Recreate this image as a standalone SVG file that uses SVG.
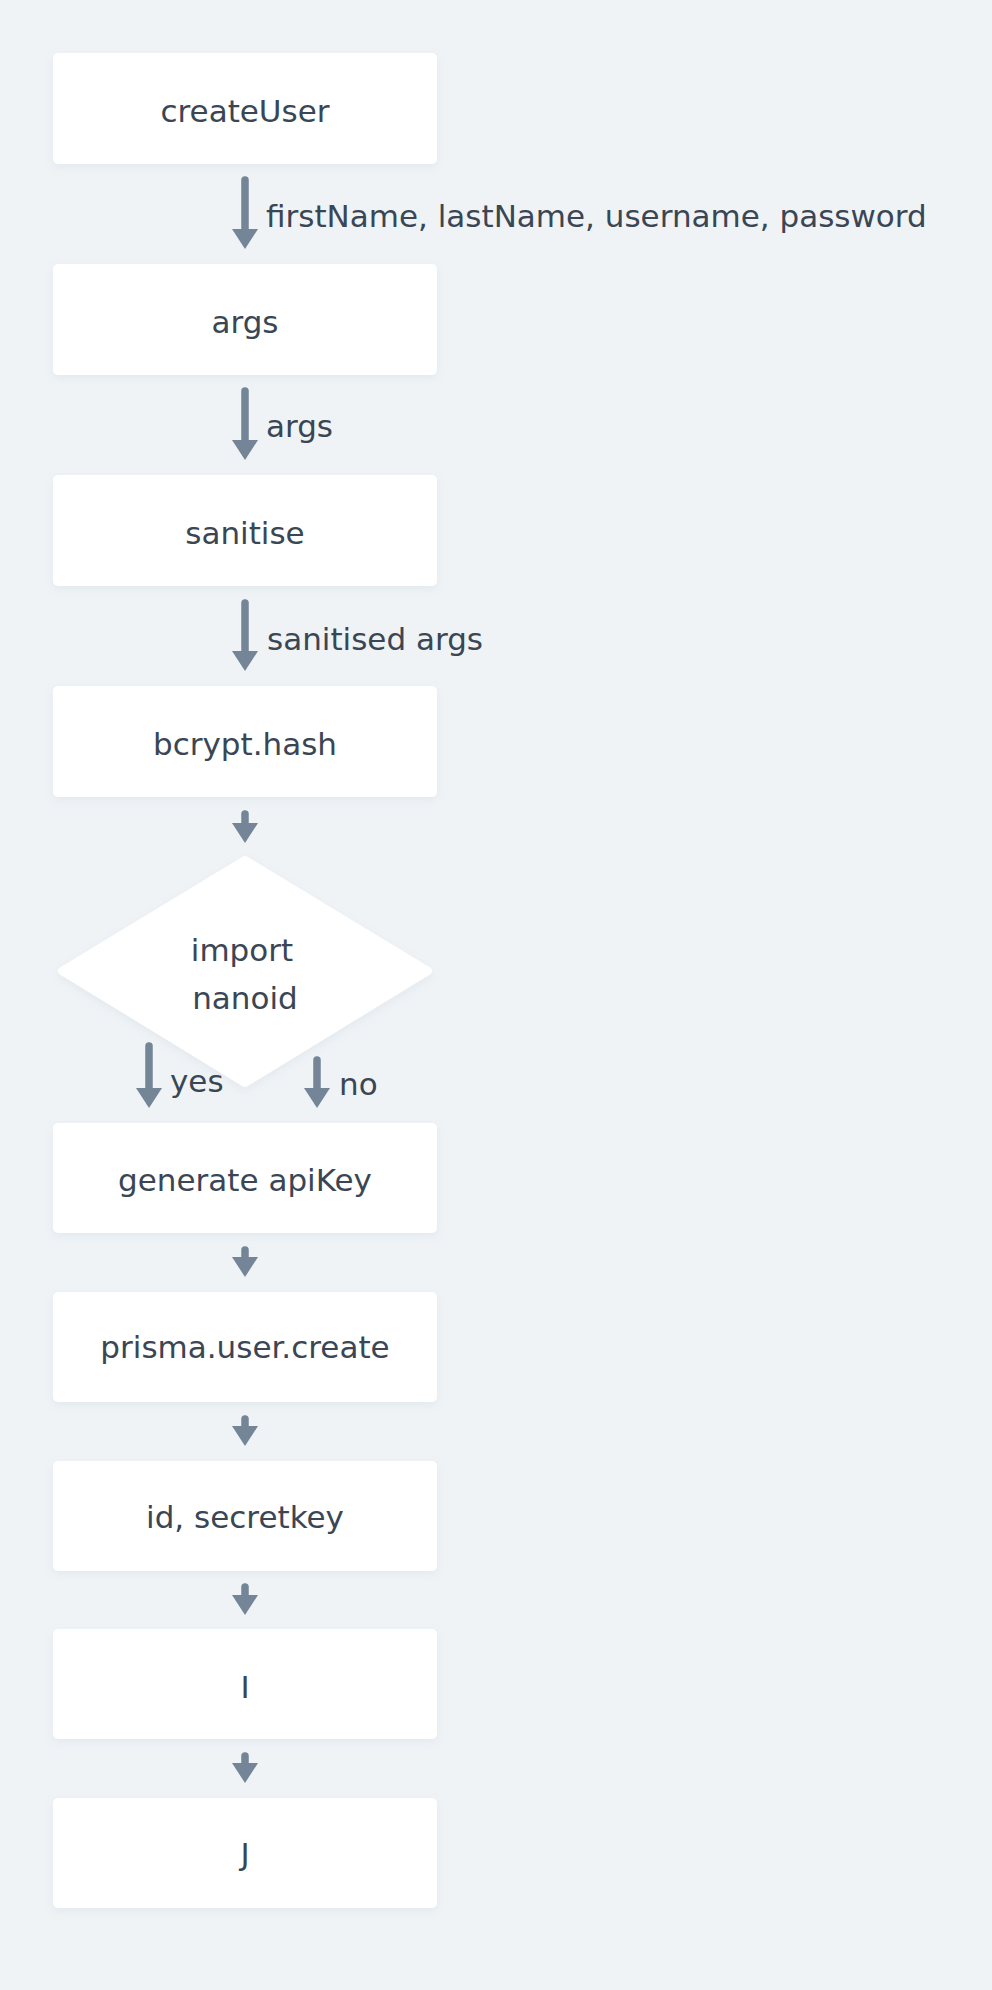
<svg xmlns="http://www.w3.org/2000/svg" width="992" height="1990" viewBox="0 0 992 1990">
  <defs>
    <filter id="sh" x="-10%" y="-20%" width="120%" height="150%">
      <feDropShadow dx="0" dy="3" stdDeviation="4" flood-color="#8a9aab" flood-opacity="0.12"/>
    </filter>
    <marker id="ah" viewBox="0 0 20 26" refX="5" refY="13" markerWidth="20" markerHeight="26" markerUnits="userSpaceOnUse" orient="auto">
      <path d="M0,0 L20,13 L0,26 Z" fill="#738597"/>
    </marker>
  </defs>
  <style>
    .box { fill: #ffffff; filter: url(#sh); }
    .lbl { font-family: "DejaVu Sans", "Liberation Sans", sans-serif; font-size: 31px; fill: #3a4654; }
    .node { text-anchor: middle; }
    .edge { stroke: #738597; stroke-width: 7.5; stroke-linecap: round; fill: none; marker-end: url(#ah); }
  </style>
  <rect x="0" y="0" width="992" height="1990" fill="#eff3f6"/>

  <g id="connectors">
    <line class="edge" x1="245" y1="180" x2="245" y2="234"/>
    <line class="edge" x1="245" y1="391" x2="245" y2="445"/>
    <line class="edge" x1="245" y1="603" x2="245" y2="656"/>
    <line class="edge" x1="245" y1="814" x2="245" y2="828"/>
    <line class="edge" x1="149" y1="1046" x2="149" y2="1093"/>
    <line class="edge" x1="317" y1="1060" x2="317" y2="1093"/>
    <line class="edge" x1="245" y1="1250" x2="245" y2="1262"/>
    <line class="edge" x1="245" y1="1419" x2="245" y2="1431"/>
    <line class="edge" x1="245" y1="1587" x2="245" y2="1600"/>
    <line class="edge" x1="245" y1="1756" x2="245" y2="1768"/>
    <text class="lbl" x="266" y="227">firstName, lastName, username, password</text>
    <text class="lbl" x="266" y="437">args</text>
    <text class="lbl" x="267" y="650">sanitised args</text>
    <text class="lbl" x="170" y="1092">yes</text>
    <text class="lbl" x="339" y="1095">no</text>
  </g>

  <g id="createUser">
    <rect class="box" x="53" y="53" width="384" height="111" rx="5"/>
    <text class="lbl node" x="245" y="122">createUser</text>
  </g>
  <g id="args">
    <rect class="box" x="53" y="264" width="384" height="111" rx="5"/>
    <text class="lbl node" x="245" y="333">args</text>
  </g>
  <g id="sanitise">
    <rect class="box" x="53" y="475" width="384" height="111" rx="5"/>
    <text class="lbl node" x="245" y="544">sanitise</text>
  </g>
  <g id="bcrypt">
    <rect class="box" x="53" y="686" width="384" height="111" rx="5"/>
    <text class="lbl node" x="245" y="755">bcrypt.hash</text>
  </g>
  <g id="importNanoid">
    <polygon points="245,860 428,971 245,1083 62,971" fill="#ffffff" stroke="#ffffff" stroke-width="8" stroke-linejoin="round" filter="url(#sh)"/>
    <text class="lbl node" x="242" y="961">import</text>
    <text class="lbl node" x="245" y="1009">nanoid</text>
  </g>
  <g id="generateApiKey">
    <rect class="box" x="53" y="1123" width="384" height="110" rx="5"/>
    <text class="lbl node" x="245" y="1191">generate apiKey</text>
  </g>
  <g id="prismaUserCreate">
    <rect class="box" x="53" y="1292" width="384" height="110" rx="5"/>
    <text class="lbl node" x="245" y="1358">prisma.user.create</text>
  </g>
  <g id="idSecretkey">
    <rect class="box" x="53" y="1461" width="384" height="110" rx="5"/>
    <text class="lbl node" x="245" y="1528">id, secretkey</text>
  </g>
  <g id="I">
    <rect class="box" x="53" y="1629" width="384" height="110" rx="5"/>
    <text class="lbl node" x="245" y="1698">I</text>
  </g>
  <g id="J">
    <rect class="box" x="53" y="1798" width="384" height="110" rx="5"/>
    <text class="lbl node" x="245" y="1865">J</text>
  </g>
</svg>
